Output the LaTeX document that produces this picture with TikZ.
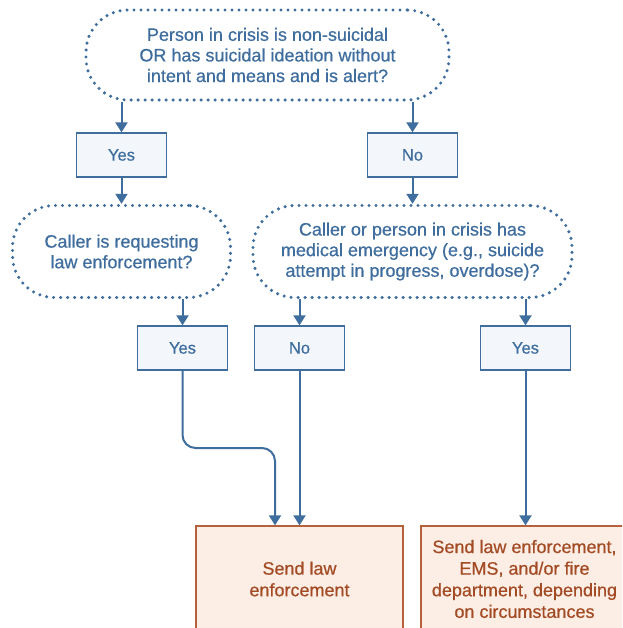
\documentclass[tikz,border=0pt]{standalone}
\usepackage{fontspec}
\setmainfont{Liberation Sans}
\newfontface\medfont{Liberation Sans}[FakeBold=0.6]
\usetikzlibrary{arrows.meta}
\definecolor{flowblue}{HTML}{3F6E9E}
\definecolor{boxfill}{HTML}{F3F7FC}
\definecolor{actline}{HTML}{B5613C}
\definecolor{acttext}{HTML}{A34B25}
\definecolor{actfill}{HTML}{FCEEE4}
\tikzset{
  question/.style={draw=flowblue, line width=3.4pt, line cap=round,
    dash pattern=on 0pt off 7pt, rounded corners=42pt,
    text=flowblue, align=center, inner sep=0pt,
    font=\medfont\fontsize{18}{20.6}\selectfont},
  answer/.style={draw=flowblue, line width=1.3pt, fill=boxfill,
    text=flowblue, minimum width=90pt, minimum height=44pt, inner sep=0pt,
    font=\medfont\fontsize{16.5}{20}\selectfont},
  action/.style={draw=actline, line width=1.3pt, fill=actfill,
    text=acttext, align=center, minimum width=207pt, minimum height=106pt,
    inner sep=0pt, font=\medfont\fontsize{18}{21.6}\selectfont},
  flow/.style={draw=flowblue, line width=2pt,
    -{Triangle[width=12pt,length=10pt]}},
}
\begin{document}
\begin{tikzpicture}[x=1pt,y=-1pt]
\clip (0,0) rectangle (622,628);
\fill[white] (0,0) rectangle (622,628);

% first question
\node[question, minimum width=363pt, minimum height=90pt] (q1) at (267.5,55)
  {Person in crisis is non-suicidal\\OR has suicidal ideation without\\intent and means and is alert?};
\node[answer] (a1) at (121.5,155) {Yes};
\node[answer] (a2) at (412.5,155) {No};

% second-level questions
\node[question, minimum width=218pt, minimum height=92pt] (q2) at (121.5,251.5)
  {Caller is requesting\\law enforcement?};
\node[question, minimum width=319pt, minimum height=92pt] (q3) at (412.5,251.5)
  {Caller or person in crisis has\\medical emergency (e.g., suicide\\attempt in progress, overdose)?};

\node[answer] (a3) at (182.5,348) {Yes};
\node[answer] (a4) at (299.5,348) {No};
\node[answer] (a5) at (525.5,348) {Yes};

% outcomes
\node[action] (r1) at (299.5,579) {Send law\\enforcement};
\node[action] (r2) at (524.5,579) {Send law enforcement,\\EMS, and/or fire\\department, depending\\on circumstances};

% connectors
\draw[flow] (q1.south -| a1.north) -- (a1.north);
\draw[flow] (q1.south -| a2.north) -- (a2.north);
\draw[flow] (a1.south) -- (q2.north);
\draw[flow] (a2.south) -- (q3.north);
\draw[flow] (q2.south -| a3.north) -- (a3.north);
\draw[flow] (q3.south -| a4.north) -- (a4.north);
\draw[flow] (q3.south -| a5.north) -- (a5.north);

\coordinate (bend) at (275,448);
\draw[flow, rounded corners=13pt] (a3.south) |- (bend) -- (bend |- r1.north);
\draw[flow] (a4.south) -- (a4.south |- r1.north);
\draw[flow] (a5.south) -- (a5.south |- r2.north);
\end{tikzpicture}
\end{document}
